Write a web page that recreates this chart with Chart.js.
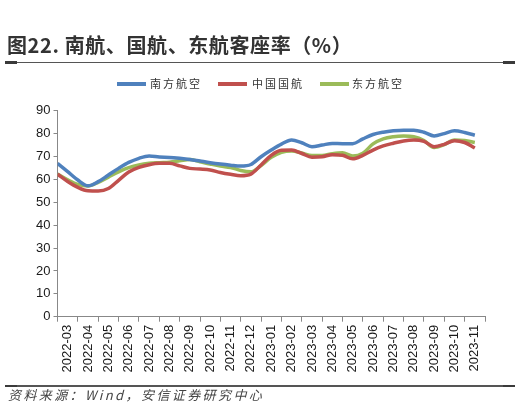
<!DOCTYPE html>
<html>
<head>
<meta charset="utf-8">
<script src="https://cdn.jsdelivr.net/npm/chart.js@4/dist/chart.umd.min.js"></script>
<style>
  html, body { margin: 0; padding: 0; background: #fff; }
  #wrap { position: relative; width: 520px; height: 411px; overflow: hidden; }
  #c { position: absolute; left: 0; top: 0; }
  .title { position: absolute; left: 7px; top: 33px; font: bold 20px "Noto Sans CJK SC", sans-serif; color: #333; white-space: nowrap; line-height: 24px; letter-spacing: 0.6px; }
  .rule { position: absolute; left: 5px; width: 510px; height: 1.5px; background: #555; }
  .rule::before, .rule::after { content: ""; position: absolute; top: -0.5px; width: 12px; height: 2.5px; background: #3a3a3a; }
  .rule::before { left: 0; }
  .rule::after { right: 0; }
  .leg { position: absolute; top: 75px; font: 11px "Noto Sans CJK SC", sans-serif; color: #333; letter-spacing: 2px; line-height: 16px; white-space: nowrap; }
  .sw { position: absolute; top: 82px; width: 29px; height: 3.5px; }
  .src { position: absolute; left: 8px; top: 387px; font: italic 13px "Noto Sans CJK SC", sans-serif; color: #444; letter-spacing: 2.4px; white-space: nowrap; line-height: 16px; }
</style>
</head>
<body>
<div id="wrap">
  <canvas id="c" width="520" height="411"></canvas>
  <div class="title">图22. 南航、国航、东航客座率（%）</div>
  <div class="rule" style="top:61.5px"></div>
  <div class="sw" style="left:117px;background:#4F81BD"></div>
  <div class="leg" style="left:150px">南方航空</div>
  <div class="sw" style="left:218px;background:#C0504D"></div>
  <div class="leg" style="left:252px">中国国航</div>
  <div class="sw" style="left:320px;background:#9BBB59"></div>
  <div class="leg" style="left:352px">东方航空</div>
  <div class="rule" style="top:385px"></div>
  <div class="src">资料来源：Wind，安信证券研究中心</div>
</div>
<script>
// Category (month) labels
const months = ["2022-03","2022-04","2022-05","2022-06","2022-07","2022-08","2022-09","2022-10","2022-11","2022-12",
                "2023-01","2023-02","2023-03","2023-04","2023-05","2023-06","2023-07","2023-08","2023-09","2023-10","2023-11"];
// Sample positions in month-index units (0 = 2022-03)
const positions = [-0.5,0,0.5,1,1.5,2,2.5,3,3.5,4,4.5,5,5.5,6,6.5,7,7.5,8,8.5,9,9.5,10,10.5,11,11.5,12,12.5,13,13.5,14,14.5,15,15.5,16,16.5,17,17.5,18,18.5,19,19.5,20];
// Series values (%)
const southern = [67.0,63.4,59.7,57.2,59.0,61.9,64.8,67.4,69.2,70.2,69.8,69.6,69.2,68.7,68.0,67.3,66.7,66.2,65.8,66.5,69.9,72.8,75.4,77.2,76.0,74.3,75.0,75.7,75.6,75.6,77.7,79.6,80.6,81.2,81.5,81.5,80.6,79.0,80.0,81.2,80.5,79.3];
const airChina = [62.3,59.1,56.5,55.0,54.9,56.0,59.6,63.2,65.2,66.4,67.0,67.0,65.9,64.8,64.5,64.1,63.0,62.2,61.6,62.3,66.3,70.5,72.7,72.8,71.3,69.7,69.9,70.8,70.5,69.0,70.5,72.8,74.6,75.8,76.8,77.2,76.6,74.3,75.3,76.9,76.1,73.7];
const eastern  = [62.3,59.8,57.8,57.1,58.7,61.0,63.3,65.1,66.3,67.0,67.3,67.5,68.1,68.7,67.7,66.7,65.8,65.2,63.9,63.3,66.0,69.6,71.8,72.4,71.5,70.4,70.4,71.2,71.6,70.2,71.4,75.5,77.7,78.6,78.9,78.6,77.0,73.9,75.2,77.2,77.0,76.1];
const yTicks = [0,10,20,30,40,50,60,70,80,90];

const pts = arr => positions.map((p, k) => ({ x: p, y: arr[k] }));
const mk = (label, arr, color) => ({
  label, data: pts(arr), xAxisID: 'xl', borderColor: color, backgroundColor: color,
  borderWidth: 3.5, pointRadius: 0, fill: false, cubicInterpolationMode: 'monotone', borderCapStyle: 'butt'
});

new Chart(document.getElementById('c'), {
  type: 'line',
  data: {
    labels: months,
    datasets: [
      mk('南方航空', southern, '#4F81BD'),
      mk('中国国航', airChina, '#C0504D'),
      mk('东方航空', eastern, '#9BBB59')
    ]
  },
  options: {
    responsive: false,
    animation: false,
    devicePixelRatio: 1,
    layout: { padding: { top: 110.7, right: 35, bottom: 0, left: 0 } },
    plugins: { legend: { display: false }, tooltip: { enabled: false } },
    scales: {
      x: {
        type: 'category', offset: true,
        grid: { offset: true, drawOnChartArea: false, drawTicks: true, tickLength: 5, color: '#888', lineWidth: 1 },
        border: { display: true, color: '#888', width: 1 },
        ticks: { autoSkip: false, minRotation: 90, maxRotation: 90, padding: 3, color: '#1a1a1a',
                 font: { family: '"Liberation Sans", Arial, sans-serif', size: 13 } },
        afterFit: s => { s.height = 411 - 316.7; }
      },
      xl: { type: 'linear', display: false, min: -0.5, max: 20.5, position: 'bottom' },
      y: {
        min: 0, max: 90,
        afterBuildTicks: s => { s.ticks = yTicks.map(v => ({ value: v })); },
        grid: { drawOnChartArea: false, drawTicks: true, tickLength: 4, color: '#888' },
        border: { display: true, color: '#888', width: 1 },
        ticks: { padding: 3, color: '#1a1a1a', font: { family: '"Liberation Sans", Arial, sans-serif', size: 13 } },
        afterFit: s => { s.width = 57.5; }
      }
    }
  }
});
</script>
</body>
</html>
